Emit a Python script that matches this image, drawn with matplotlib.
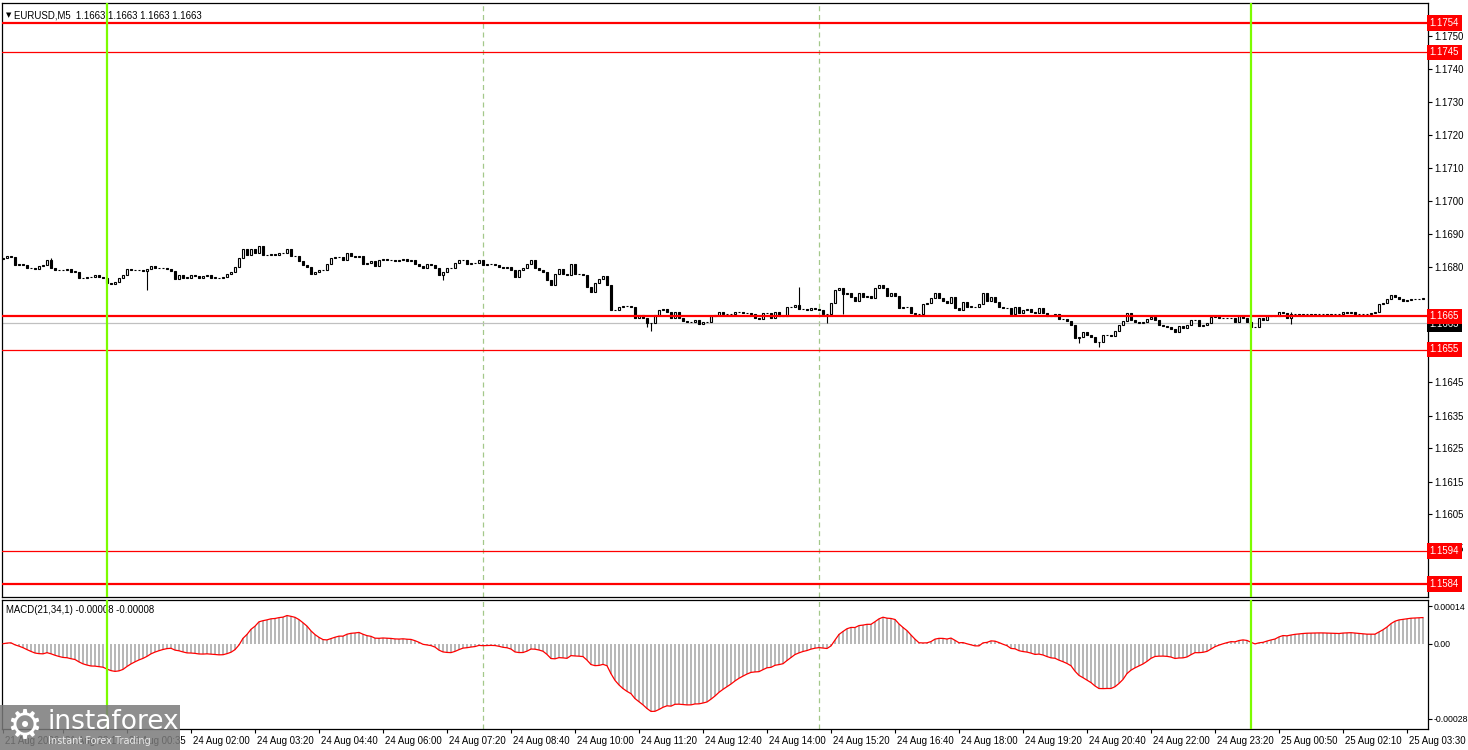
import numpy as np
import pandas as pd
import matplotlib
matplotlib.use('Agg')
import matplotlib.pyplot as plt
from matplotlib.patches import Rectangle
from matplotlib.transforms import ScaledTranslation

plt.rcParams['font.family'] = ['Liberation Sans', 'DejaVu Sans']
FS = 6.9

# closes of the EURUSD M5 bars, in pips above BASE
BASE = 1.1650
close_pips = [
    32.6, 33.3, 33.0, 30.5, 31.0, 30.5, 29.8, 29.6, 29.5, 30.3,
    30.6, 32.0, 29.6, 29.0, 29.0, 29.0, 29.5, 28.6, 28.6, 26.6,
    26.6, 27.0, 27.0, 27.6, 27.0, 26.8, 25.1, 25.0, 25.5, 26.6,
    27.6, 29.3, 29.2, 29.0, 29.0, 28.8, 29.5, 30.3, 29.8, 29.6,
    29.6, 29.4, 28.9, 26.5, 27.5, 26.8, 26.8, 27.5, 27.2, 26.8,
    27.2, 27.5, 26.8, 26.8, 26.6, 27.0, 28.0, 28.5, 30.0, 32.6,
    35.6, 33.6, 35.6, 34.3, 36.3, 33.5, 33.5, 34.0, 33.5, 34.3,
    34.2, 35.6, 33.4, 33.2, 31.8, 30.6, 30.0, 28.0, 28.5, 29.0,
    29.2, 31.0, 32.8, 33.0, 33.0, 32.0, 34.2, 33.4, 33.0, 33.3,
    30.9, 31.1, 31.7, 30.4, 32.0, 32.5, 32.0, 32.0, 31.7, 32.0,
    32.5, 31.8, 32.0, 30.8, 30.2, 29.6, 30.8, 30.6, 29.6, 27.6,
    28.5, 29.6, 29.8, 31.3, 32.0, 32.0, 31.0, 31.3, 31.2, 32.0,
    30.6, 31.0, 31.0, 30.7, 30.0, 29.6, 30.0, 29.0, 27.0, 29.0,
    29.6, 31.0, 32.0, 29.8, 29.0, 28.4, 26.0, 24.4, 27.9, 29.4,
    27.9, 27.6, 30.9, 27.9, 27.9, 27.6, 24.0, 22.4, 25.2, 26.4,
    27.2, 24.6, 16.9, 17.0, 18.0, 18.1, 18.2, 18.0, 14.5, 15.4,
    14.5, 13.1, 13.0, 15.5, 17.0, 17.3, 16.5, 14.4, 16.4, 14.4,
    13.5, 13.2, 13.2, 13.8, 12.7, 13.2, 13.2, 15.0, 15.5, 16.3,
    15.8, 15.7, 15.8, 16.5, 16.3, 16.0, 16.0, 15.7, 14.5, 14.2,
    16.0, 16.0, 14.6, 16.3, 15.0, 15.2, 17.8, 17.9, 18.4, 17.3,
    17.2, 16.9, 17.5, 17.2, 16.9, 15.8, 15.8, 19.0, 23.0, 23.7,
    21.7, 22.0, 20.9, 19.7, 22.0, 20.8, 21.3, 20.7, 23.7, 24.5,
    23.7, 21.3, 22.0, 21.3, 17.5, 17.9, 17.9, 16.1, 15.7, 15.7,
    18.9, 19.2, 20.5, 22.0, 20.6, 19.8, 19.2, 20.9, 17.5, 17.0,
    19.5, 18.0, 18.0, 17.8, 18.8, 22.1, 19.8, 21.0, 19.3, 18.0,
    17.5, 17.5, 15.8, 18.0, 16.2, 17.0, 17.2, 16.5, 16.0, 17.5,
    16.2, 15.2, 15.2, 15.9, 14.1, 14.1, 13.5, 12.5, 8.6, 8.9,
    10.2, 9.4, 8.9, 7.2, 7.4, 9.4, 9.4, 9.0, 10.7, 12.4,
    13.5, 16.0, 14.0, 13.2, 13.0, 13.2, 14.1, 14.9, 14.0, 12.5,
    12.2, 11.8, 11.2, 10.2, 12.0, 11.6, 12.4, 14.0, 14.0, 12.0,
    12.4, 13.0, 14.7, 15.0, 14.5, 14.5, 14.5, 14.5, 13.4, 15.0,
    14.5, 13.3, 11.8, 11.8, 14.5, 14.0, 15.0, 15.0, 15.0, 16.5,
    16.0, 14.5, 15.7, 15.7, 15.6, 15.7, 15.7, 15.6, 15.7, 15.7,
    15.7, 15.6, 15.7, 15.7, 15.7, 16.4, 16.2, 16.4, 15.8, 15.8,
    15.9, 15.8, 16.2, 16.3, 18.8, 19.2, 20.2, 21.5, 21.0, 20.3,
    19.8, 20.1, 20.3, 20.2, 20.3, 20.5,
]
first_open_pips = 32.3
# long shadows visible on the chart (bar index: pips)
wick_high = {199: 24.0, 322: 16.5, 12: 32.6, 120: 32.0}
wick_low = {36: 23.0, 110: 26.1, 161: 11.9, 162: 10.7, 206: 12.9,
            210: 15.7, 269: 6.9, 274: 5.8, 322: 12.7}

levels_thick = [1.1754, 1.1665, 1.1584]
levels_thin = [1.1745, 1.1655, 1.1594]
bid = 1.1663
price_ticks = [1.1750, 1.1740, 1.1730, 1.1720, 1.1710, 1.1700, 1.1690, 1.1680,
               1.1645, 1.1635, 1.1625, 1.1615, 1.1605, 1.1595]
green_bars = [26, 312]
dashed_bars = [120, 204]

tick_idx = [0, 15, 31, 47, 63, 79, 95, 111, 127, 143, 159, 175, 191, 207, 223,
            239, 255, 271, 287, 303, 319, 335, 351]
tick_labels = ['21 Aug 2026', '21 Aug 22:10', '24 Aug 00:35', '24 Aug 02:00',
               '24 Aug 03:20', '24 Aug 04:40', '24 Aug 06:00', '24 Aug 07:20',
               '24 Aug 08:40', '24 Aug 10:00', '24 Aug 11:20', '24 Aug 12:40',
               '24 Aug 14:00', '24 Aug 15:20', '24 Aug 16:40', '24 Aug 18:00',
               '24 Aug 19:20', '24 Aug 20:40', '24 Aug 22:00', '24 Aug 23:20',
               '25 Aug 00:50', '25 Aug 02:10', '25 Aug 03:30']

# ohlc
close = BASE + np.array(close_pips) / 10000
opens = np.concatenate([[BASE + first_open_pips / 10000], close[:-1]])
high = np.maximum(opens, close)
low = np.minimum(opens, close)
for k, v in wick_high.items():
    high[k] = max(high[k], BASE + v / 10000)
for k, v in wick_low.items():
    low[k] = min(low[k], BASE + v / 10000)
n = len(close)
x = np.arange(n)

# MACD(21,34,1)
s = pd.Series(close)
macd = (s.ewm(span=21, adjust=False).mean() - s.ewm(span=34, adjust=False).mean()).values
signal = pd.Series(macd).rolling(1).mean().values

W, H = 1468, 750
fig = plt.figure(figsize=(W / 100, H / 100), dpi=100)
fig.patch.set_facecolor('white')
L, R = 2 / W, 1428 / W
ax = fig.add_axes([L, 1 - 597 / H, R - L, (597 - 3) / H])
ax2 = fig.add_axes([L, 1 - 729 / H, R - L, (729 - 600) / H], sharex=ax)

up = close >= opens
ax.vlines(x, low, high, color='black', lw=0.8, zorder=3)
body = np.abs(close - opens)
body = np.where(body < 0.000005, 0.000005, body)
ax.bar(x[up], body[up], bottom=np.minimum(opens, close)[up], width=0.72,
       facecolor='white', edgecolor='black', linewidth=0.8, zorder=4)
ax.bar(x[~up], body[~up], bottom=np.minimum(opens, close)[~up], width=0.72,
       facecolor='black', edgecolor='black', linewidth=0.8, zorder=4)

ax.axhline(bid, color='#c0c0c0', lw=0.9, zorder=2)
for lv in levels_thick:
    ax.axhline(lv, color='#ff0000', lw=1.6, zorder=5)
for lv in levels_thin:
    ax.axhline(lv, color='#ff0000', lw=0.9, zorder=5)

for a in (ax, ax2):
    for b in green_bars:
        a.axvline(b, color='#7cfc00', lw=1.6, zorder=6)
    for b in dashed_bars:
        a.axvline(b, color='#a4c88a', lw=0.9, ls=(0, (4, 3)), zorder=1)

ax.set_xlim(-0.25, (1428 - 3) / 4)
ax.set_ylim(1.1580, 1.1760)
ax.yaxis.tick_right()
ax.set_yticks(price_ticks)
ax.set_yticklabels(['%.4f' % p for p in price_ticks])
ax.tick_params(axis='y', labelsize=FS, length=3, pad=1.5)
ax.tick_params(axis='x', bottom=False, labelbottom=False)

ytr = ax.get_yaxis_transform()
for lv in levels_thick + levels_thin:
    ax.text(1.0012, lv, '%.4f' % lv, transform=ytr, ha='left', va='center',
            fontsize=FS, color='white', zorder=10, clip_on=False,
            bbox=dict(boxstyle='square,pad=0.3', fc='#ff0000', ec='none'))
ax.text(1.0012, bid - 0.00003, '%.4f' % bid, transform=ytr, ha='left', va='center',
        fontsize=FS, color='white', zorder=9, clip_on=False,
        bbox=dict(boxstyle='square,pad=0.3', fc='black', ec='none'))

ax.text(0.0085, 0.987, 'EURUSD,M5  1.1663 1.1663 1.1663 1.1663',
        transform=ax.transAxes, fontsize=FS, va='top', ha='left')
ax.text(0.003, 0.985, '\u25bc', transform=ax.transAxes, fontsize=5,
        va='top', ha='left', family='DejaVu Sans')

# MACD panel
ax2.bar(x, macd, width=0.55, color='#b8b8b8', zorder=2)
ax2.plot(x, signal, color='#ff0000', lw=0.9, zorder=3)
ax2.set_ylim(-0.000318, 0.000163)
ax2.yaxis.tick_right()
ax2.set_yticks([0.00014, 0.0, -0.00028])
ax2.set_yticklabels(['0.00014', '0.00', '-0.00028'])
ax2.tick_params(axis='y', labelsize=6.3, length=3, pad=1)
ax2.set_xticks(tick_idx)
ax2.set_xticklabels(tick_labels)
ax2.tick_params(axis='x', labelsize=FS, length=3, pad=2)
for lab in ax2.get_xticklabels():
    lab.set_horizontalalignment('left')
    lab.set_transform(lab.get_transform() + ScaledTranslation(0.02, 0, fig.dpi_scale_trans))
ax2.text(0.003, 0.96, 'MACD(21,34,1) -0.00008 -0.00008', transform=ax2.transAxes,
         fontsize=FS, va='top', ha='left')

for a in (ax, ax2):
    for sp in a.spines.values():
        sp.set_color('black')
        sp.set_linewidth(0.9)

# watermark
fig.patches.append(Rectangle((0, 0), 180 / W, 45 / H, transform=fig.transFigure,
                             fc='#7a7a7a', ec='none', alpha=0.85, zorder=20))
fig.text(6 / W, 1 - 727 / H, '\u2699', fontsize=29, color='white', va='center',
         ha='left', zorder=21, family='DejaVu Sans')
fig.text(48 / W, 1 - 722 / H, 'instaforex', fontsize=19, color='white', va='center',
         ha='left', zorder=21, family='DejaVu Sans')
fig.text(48 / W, 1 - 741 / H, 'Instant Forex Trading', fontsize=7, color='#e8e8e8',
         va='center', ha='left', zorder=21, family='DejaVu Sans')

fig.savefig('out.png', dpi=100, facecolor='white')
